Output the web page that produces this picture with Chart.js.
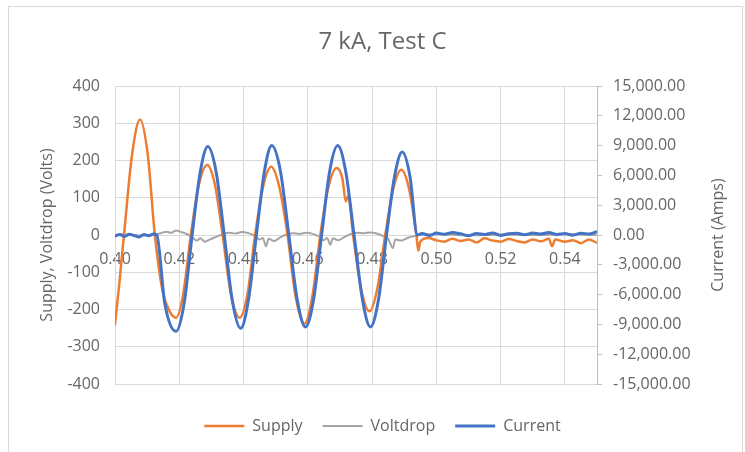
<!DOCTYPE html>
<html><head><meta charset="utf-8">
<script src="https://cdn.jsdelivr.net/npm/chart.js@4.4.0/dist/chart.umd.min.js"></script>
<style>
html,body{margin:0;padding:0;background:#fff;}
#wrap{position:relative;width:745px;height:452px;overflow:hidden;}
#frame{position:absolute;left:8px;top:6px;width:735px;height:470px;border:1px solid #d9d9d9;box-sizing:border-box;pointer-events:none;}
canvas{position:absolute;left:0;top:0;}
</style></head><body>
<div id="wrap"><canvas id="c" width="745" height="452"></canvas><div id="frame"></div></div>
<script>
// ---- data ----
const chartTitle = '7 kA, Test C';
const seriesNames = ['Supply', 'Voltdrop', 'Current'];
const leftAxisTitle = 'Supply, Voltdrop (Volts)';
const rightAxisTitle = 'Current (Amps)';

const supplyTime = [0.4000,0.4014,0.4028,0.4053,0.4078,0.4102,0.4124,0.4148,0.4170,0.4190,0.4212,0.4236,0.4261,0.4287,0.4311,0.4335,0.4361,0.4388,0.4412,0.4436,0.4461,0.4486,0.4511,0.4537,0.4562,0.4590,0.4614,0.4639,0.4664,0.4690,0.4708,0.4718,0.4726,0.4741,0.4766,0.4792,0.4816,0.4841,0.4866,0.4891,0.4915,0.4938,0.4944,0.4950,0.4975,0.5000,0.5025,0.5050,0.5075,0.5100,0.5125,0.5150,0.5175,0.5200,0.5225,0.5250,0.5275,0.5300,0.5325,0.5350,0.5360,0.5370,0.5400,0.5425,0.5450,0.5475,0.5497];
const supplyVolts = [-240,-125,0,215,310,215,0,-150,-205,-222,-160,0,135,188,135,0,-160,-222,-160,0,130,183,130,0,-165,-238,-165,0,128,180,150,90,105,0,-145,-205,-145,0,124,175,124,0,-42,-18,-8,-14,-18,-10,-16,-12,-20,-9,-15,-18,-11,-16,-20,-12,-17,-10,-30,-12,-18,-14,-22,-12,-20];

const voltdropTime = [0.4000,0.4040,0.4080,0.4120,0.4140,0.4160,0.4175,0.4190,0.4205,0.4225,0.4240,0.4255,0.4265,0.4280,0.4295,0.4315,0.4335,0.4355,0.4375,0.4395,0.4415,0.4435,0.4450,0.4460,0.4470,0.4478,0.4495,0.4515,0.4535,0.4555,0.4575,0.4595,0.4615,0.4635,0.4650,0.4660,0.4670,0.4678,0.4695,0.4715,0.4735,0.4755,0.4775,0.4795,0.4815,0.4835,0.4850,0.4865,0.4872,0.4890,0.4910,0.4930,0.4945,0.5000,0.5100,0.5200,0.5300,0.5400,0.5497];
const voltdropVolts = [0,2,-2,1,4,9,6,12,8,2,-6,-15,-9,-18,-12,-5,2,6,4,8,5,-2,-12,-8,-30,-10,-16,-6,2,5,3,6,3,-4,-14,-8,-26,-9,-14,-5,3,6,5,7,4,-3,-10,-35,-12,-15,-8,-3,0,2,-1,1,0,2,0];

const currentTime = [0.4000,0.4015,0.4030,0.4045,0.4060,0.4075,0.4090,0.4105,0.4120,0.4130,0.4155,0.4190,0.4215,0.4240,0.4265,0.4289,0.4315,0.4340,0.4365,0.4391,0.4415,0.4440,0.4465,0.4488,0.4515,0.4541,0.4567,0.4593,0.4618,0.4643,0.4668,0.4693,0.4718,0.4744,0.4770,0.4795,0.4820,0.4845,0.4870,0.4894,0.4918,0.4941,0.4955,0.4980,0.5000,0.5025,0.5050,0.5075,0.5100,0.5125,0.5150,0.5175,0.5200,0.5225,0.5250,0.5275,0.5300,0.5325,0.5350,0.5375,0.5400,0.5425,0.5450,0.5475,0.5497];
const currentAmps = [-100,50,-150,80,-60,-200,60,-80,100,0,-6900,-9700,-6900,0,6300,8900,6300,0,-6600,-9400,-6600,0,6400,9000,6400,0,-6500,-9250,-6500,0,6400,9000,6400,0,-6500,-9250,-6500,0,5900,8350,5900,0,150,-50,200,80,250,120,-80,150,60,200,-40,120,180,30,200,90,250,60,150,-20,180,100,300];

const voltTicks = {min: -400, max: 400, step: 100};
const ampTicks = {min: -15000, max: 15000, step: 3000};
const timeTicks = {min: 0.40, max: 0.55, step: 0.02};

// ---- chart ----
const FONT = "'Open Sans', sans-serif";
const TXT = '#666666';
const GRID = '#d9d9d9';
const pts = (xs, ys) => xs.map((x, i) => ({x: x, y: ys[i]}));

// right axis title drawn reading bottom-to-top, as in the reference
const rightTitlePlugin = {
  id: 'rightTitle',
  afterDraw(chart) {
    const s = chart.scales.y1;
    const ctx = chart.ctx;
    ctx.save();
    ctx.translate(718, (s.top + s.bottom) / 2);
    ctx.rotate(-Math.PI / 2);
    ctx.textAlign = 'center';
    ctx.textBaseline = 'middle';
    ctx.fillStyle = TXT;
    ctx.font = "16px " + FONT;
    ctx.fillText(rightAxisTitle, 0, 0);
    ctx.restore();
  }
};

new Chart(document.getElementById('c'), {
  type: 'line',
  data: {
    datasets: [
      {label: seriesNames[0], data: pts(supplyTime, supplyVolts), borderColor: '#ED7D31', backgroundColor: '#ED7D31', borderWidth: 2.5, yAxisID: 'y', order: 2},
      {label: seriesNames[1], data: pts(voltdropTime, voltdropVolts), borderColor: '#A5A5A5', backgroundColor: '#A5A5A5', borderWidth: 2, yAxisID: 'y', order: 3},
      {label: seriesNames[2], data: pts(currentTime, currentAmps), borderColor: '#4472C4', backgroundColor: '#4472C4', borderWidth: 3, yAxisID: 'y1', order: 1}
    ]
  },
  plugins: [rightTitlePlugin],
  options: {
    responsive: false,
    animation: false,
    elements: {
      point: {radius: 0, hoverRadius: 0},
      line: {cubicInterpolationMode: 'monotone', borderCapStyle: 'round', borderJoinStyle: 'round', fill: false}
    },
    layout: {padding: {left: 20, right: 0, top: 0, bottom: 8}},
    plugins: {
      title: {display: true, text: chartTitle, color: TXT, font: {family: FONT, size: 24, weight: 'normal'}, padding: {top: 27.6, bottom: 29.6}},
      legend: {
        position: 'bottom',
        labels: {usePointStyle: true, pointStyle: 'line', pointStyleWidth: 40, color: TXT, font: {family: FONT, size: 16}, padding: 20,
                 sort: (a, b) => a.datasetIndex - b.datasetIndex},
        title: {display: true, text: '', font: {size: 10, lineHeight: 1}, padding: {top: 4, bottom: 0}}
      },
      tooltip: {enabled: false}
    },
    scales: {
      x: {
        type: 'linear', position: {y: 0}, min: timeTicks.min, max: timeTicks.max,
        grid: {color: GRID, drawTicks: false}, border: {display: false},
        ticks: {stepSize: timeTicks.step, includeBounds: false, color: TXT, font: {family: FONT, size: 16}, padding: 15, maxRotation: 0,
                callback: v => v.toFixed(2)}
      },
      y: {
        position: 'left', min: voltTicks.min, max: voltTicks.max,
        grid: {color: GRID, drawTicks: false}, border: {display: true, color: GRID},
        ticks: {stepSize: voltTicks.step, color: TXT, font: {family: FONT, size: 16}, padding: 15},
        title: {display: true, text: leftAxisTitle, color: TXT, font: {family: FONT, size: 16}, padding: {top: 17.4, bottom: 0}},
        afterFit: s => { s.width = 95; }
      },
      y1: {
        position: 'right', min: ampTicks.min, max: ampTicks.max,
        grid: {drawOnChartArea: false, color: '#bfbfbf', tickLength: 5}, border: {display: true, color: '#bfbfbf'},
        ticks: {stepSize: ampTicks.step, color: TXT, font: {family: FONT, size: 16}, padding: 11,
                callback: v => v.toLocaleString('en-US', {minimumFractionDigits: 2, maximumFractionDigits: 2})},
        title: {display: false},
        afterFit: s => { s.width = 148; }
      }
    }
  }
});
</script>
</body></html>
